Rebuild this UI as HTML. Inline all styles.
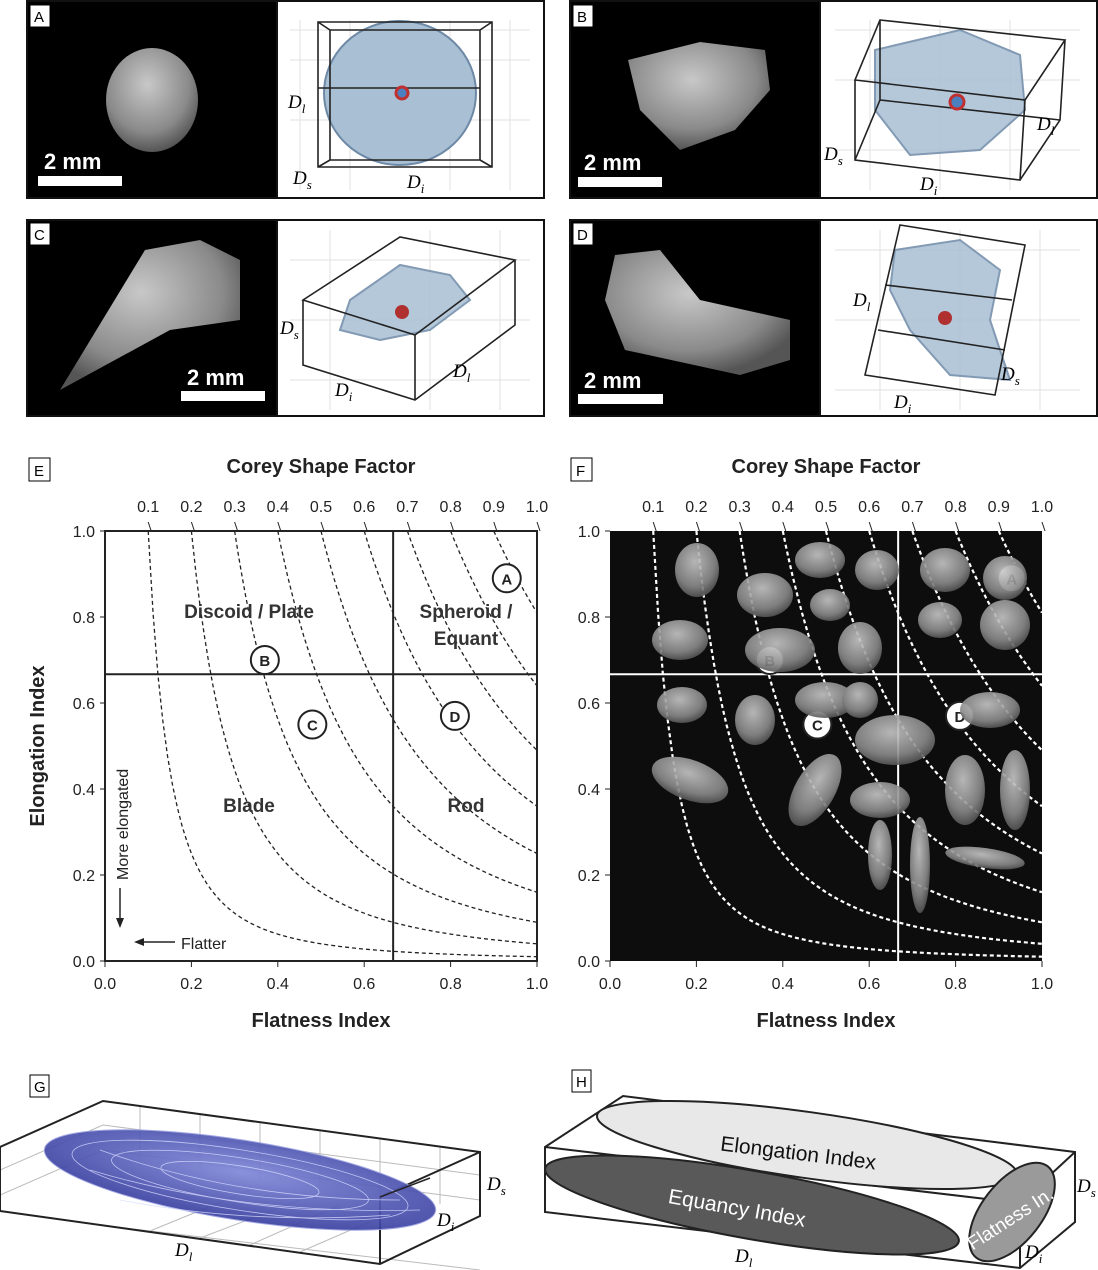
<!DOCTYPE html><html><head><meta charset="utf-8"><style>
body{margin:0;background:#fff}svg{display:block;font-family:"Liberation Sans",sans-serif}
.it{font-family:"Liberation Serif",serif;font-style:italic;font-size:19px}
</style></head><body>
<svg id="s" width="1098" height="1270" viewBox="0 0 1098 1270" xmlns="http://www.w3.org/2000/svg">
<defs>
<radialGradient id="rk" cx="45%" cy="35%" r="65%"><stop offset="0" stop-color="#c8c8c8"/><stop offset="0.7" stop-color="#8a8a8a"/><stop offset="1" stop-color="#555"/></radialGradient>
<radialGradient id="bl" cx="50%" cy="40%" r="60%"><stop offset="0" stop-color="#8088d8"/><stop offset="1" stop-color="#3a40a0"/></radialGradient>
</defs>
<!-- panels A-D -->
<g stroke="#111" stroke-width="2">
<rect x="27" y="1" width="517" height="197" fill="#fff"/><rect x="27" y="1" width="250" height="197" fill="#000"/>
<rect x="570" y="1" width="527" height="197" fill="#fff"/><rect x="570" y="1" width="250" height="197" fill="#000"/>
<rect x="27" y="220" width="517" height="196" fill="#fff"/><rect x="27" y="220" width="250" height="196" fill="#000"/>
<rect x="570" y="220" width="527" height="196" fill="#fff"/><rect x="570" y="220" width="250" height="196" fill="#000"/>
</g>
<g font-size="15" fill="#000">
<rect x="30" y="5" width="20" height="22" fill="#fff" stroke="#000"/><text x="34" y="22">A</text>
<rect x="573" y="5" width="20" height="22" fill="#fff" stroke="#000"/><text x="577" y="22">B</text>
<rect x="30" y="223" width="20" height="22" fill="#fff" stroke="#000"/><text x="34" y="240">C</text>
<rect x="573" y="223" width="20" height="22" fill="#fff" stroke="#000"/><text x="577" y="240">D</text>
</g>
<!-- rocks -->
<ellipse cx="152" cy="100" rx="46" ry="52" fill="url(#rk)"/>
<path d="M628 60 L700 42 L765 50 L770 90 L735 130 L680 150 L640 110 Z" fill="url(#rk)"/>
<path d="M60 390 L145 250 L200 240 L240 260 L240 320 L170 330 Z" fill="url(#rk)"/>
<path d="M615 255 L660 250 L700 300 L790 320 L790 360 L740 375 L625 350 L605 300 Z" fill="url(#rk)"/>
<g fill="#fff" font-weight="bold" font-size="22">
<rect x="38" y="176" width="84" height="10"/><text x="44" y="169">2 mm</text>
<rect x="578" y="177" width="84" height="10"/><text x="584" y="170">2 mm</text>
<rect x="181" y="391" width="84" height="10"/><text x="187" y="385">2 mm</text>
<rect x="578" y="394" width="85" height="10"/><text x="584" y="388">2 mm</text>
</g>
<!-- 3D boxes -->
<g stroke="#e2e2e2" stroke-width="1" fill="none">
<path d="M290 30 L530 30 M290 60 L530 60 M290 120 L530 120 M300 20 L300 190 M350 20 L350 190 M450 20 L450 190 M510 20 L510 190"/>
<path d="M835 30 L1080 30 M835 80 L1080 80 M835 150 L1080 150 M870 20 L870 190 M940 20 L940 190 M1010 20 L1010 190"/>
<path d="M290 260 L530 260 M290 320 L530 320 M290 380 L530 380 M330 230 L330 410 M430 230 L430 410 M500 230 L500 410"/>
<path d="M835 250 L1080 250 M835 320 L1080 320 M835 390 L1080 390 M880 230 L880 410 M960 230 L960 410 M1040 230 L1040 410"/>
</g>
<ellipse cx="400" cy="93" rx="76" ry="72" fill="#a9bfd4" stroke="#6d89a6" stroke-width="2"/>
<g stroke="#222" stroke-width="1.6" fill="none">
<path d="M318 22 L492 22 L492 167 L318 167 Z M330 30 L480 30 L480 160 L330 160 Z M318 22 L330 30 M492 22 L480 30 M492 167 L480 160 M318 167 L330 160 M318 88 L480 88"/>
</g>
<path d="M875 50 L960 30 L1020 55 L1025 110 L980 150 L910 155 L875 110 Z" fill="#a9bfd4" stroke="#6d89a6" stroke-width="2" opacity="0.85"/>
<g stroke="#222" stroke-width="1.6" fill="none">
<path d="M880 20 L1065 40 L1025 100 L855 80 Z M880 20 L880 100 M855 80 L855 160 L1020 180 L1025 100 M1020 180 L1060 120 L1065 40 M855 160 L880 100 L1060 120"/>
</g>
<path d="M350 300 L400 265 L450 275 L470 300 L430 330 L380 340 L340 330 Z" fill="#a9bfd4" stroke="#6d89a6" stroke-width="2" opacity="0.85"/>
<g stroke="#222" stroke-width="1.6" fill="none">
<path d="M303 300 L400 237 L515 260 L415 335 Z M303 300 L303 365 L415 400 L515 325 L515 260 M415 335 L415 400"/>
</g>
<path d="M895 250 L960 240 L1000 270 L990 320 L1010 380 L950 375 L910 330 L890 290 Z" fill="#a9bfd4" stroke="#6d89a6" stroke-width="2" opacity="0.85"/>
<g stroke="#222" stroke-width="1.6" fill="none">
<path d="M900 225 L1025 245 L995 395 L865 375 Z M885 285 L1012 300 M878 330 L1005 350"/>
</g>
<g stroke="#c03030" stroke-width="3"><circle cx="402" cy="93" r="6" fill="#4a7fc0"/><circle cx="957" cy="102" r="7" fill="#4a7fc0"/></g>
<circle cx="402" cy="312" r="7" fill="#b03030"/><circle cx="945" cy="318" r="7" fill="#b03030"/>
<g class="it">
<text x="288" y="108">D<tspan font-size="13" dy="5">l</tspan></text><text x="293" y="184">D<tspan font-size="13" dy="5">s</tspan></text><text x="407" y="188">D<tspan font-size="13" dy="5">i</tspan></text>
<text x="1037" y="130">D<tspan font-size="13" dy="5">l</tspan></text><text x="824" y="160">D<tspan font-size="13" dy="5">s</tspan></text><text x="920" y="190">D<tspan font-size="13" dy="5">i</tspan></text>
<text x="280" y="334">D<tspan font-size="13" dy="5">s</tspan></text><text x="335" y="396">D<tspan font-size="13" dy="5">i</tspan></text><text x="453" y="377">D<tspan font-size="13" dy="5">l</tspan></text>
<text x="853" y="306">D<tspan font-size="13" dy="5">l</tspan></text><text x="1001" y="380">D<tspan font-size="13" dy="5">s</tspan></text><text x="894" y="408">D<tspan font-size="13" dy="5">i</tspan></text>
</g>
<!-- E/F -->
<g font-size="15"><rect x="29" y="458" width="21" height="23" fill="#fff" stroke="#000"/><text x="34" y="476">E</text>
<rect x="571" y="458" width="21" height="23" fill="#fff" stroke="#000"/><text x="576" y="476">F</text></g>
<g font-weight="bold" font-size="20" text-anchor="middle" fill="#222">
<text x="321" y="473">Corey Shape Factor</text><text x="826" y="473">Corey Shape Factor</text>
<text x="321" y="1027">Flatness Index</text><text x="826" y="1027">Flatness Index</text>
<text transform="translate(44,746) rotate(-90)">Elongation Index</text>
</g>
<rect x="610" y="531" width="432" height="430" fill="#0d0d0d"/>
<g id="plots"></g>
<g font-weight="bold" font-size="19" fill="#333" text-anchor="middle">
<text x="249" y="618">Discoid / Plate</text><text x="466" y="618">Spheroid /</text><text x="466" y="645">Equant</text>
<text x="249" y="812">Blade</text><text x="466" y="812">Rod</text>
</g>
<g font-size="16" fill="#222">
<text transform="translate(128,880) rotate(-90)">More elongated</text>
<path d="M120 888 L120 922" stroke="#222" stroke-width="1.5"/><path d="M116 918 L120 928 L124 918Z"/>
<text x="181" y="949">Flatter</text>
<path d="M140 942 L175 942" stroke="#222" stroke-width="1.5"/><path d="M144 938 L134 942 L144 946Z"/>
</g>
<!-- particles F -->
<g fill="url(#rk)" opacity="0.9">
<ellipse cx="697" cy="570" rx="22" ry="27"/><ellipse cx="765" cy="595" rx="28" ry="22"/><ellipse cx="820" cy="560" rx="25" ry="18"/><ellipse cx="830" cy="605" rx="20" ry="16"/>
<ellipse cx="877" cy="570" rx="22" ry="20"/><ellipse cx="945" cy="570" rx="25" ry="22"/><ellipse cx="1005" cy="578" rx="22" ry="22"/>
<ellipse cx="680" cy="640" rx="28" ry="20"/><ellipse cx="780" cy="650" rx="35" ry="22"/><ellipse cx="860" cy="648" rx="22" ry="26"/><ellipse cx="940" cy="620" rx="22" ry="18"/><ellipse cx="1005" cy="625" rx="25" ry="25"/>
<ellipse cx="682" cy="705" rx="25" ry="18"/><ellipse cx="755" cy="720" rx="20" ry="25"/><ellipse cx="825" cy="700" rx="30" ry="18"/><ellipse cx="895" cy="740" rx="40" ry="25"/><ellipse cx="990" cy="710" rx="30" ry="18"/><ellipse cx="860" cy="700" rx="18" ry="18"/>
<ellipse cx="690" cy="780" rx="40" ry="20" transform="rotate(20 690 780)"/><ellipse cx="815" cy="790" rx="20" ry="40" transform="rotate(30 815 790)"/><ellipse cx="880" cy="800" rx="30" ry="18"/><ellipse cx="965" cy="790" rx="20" ry="35"/><ellipse cx="1015" cy="790" rx="15" ry="40"/>
<ellipse cx="880" cy="855" rx="12" ry="35"/><ellipse cx="920" cy="865" rx="10" ry="48"/><ellipse cx="985" cy="858" rx="40" ry="10" transform="rotate(8 985 858)"/>
</g>
<!-- G -->
<rect x="30" y="1075" width="19" height="22" fill="#fff" stroke="#000"/><text x="34" y="1092" font-size="15">G</text>
<g stroke="#bbb" stroke-width="1" fill="none">
<path d="M0 1170 L103 1125 L480 1175 M0 1195 L103 1150 L480 1200 M100 1225 L480 1270 M200 1238 L300 1200 M150 1231 L250 1190 M250 1245 L340 1205 M300 1252 L390 1213 M140 1106 L140 1165 M200 1114 L200 1172 M260 1122 L260 1180 M320 1130 L320 1188 M380 1138 L380 1196 M440 1146 L440 1204"/>
</g>
<g stroke="#222" stroke-width="2" fill="none"><path d="M0 1147 L103 1101 L480 1152 L480 1216 L380 1264 L0 1211 M0 1147 L0 1211 M480 1152 L380 1197 M380 1197 L380 1264"/></g>
<ellipse cx="240" cy="1180" rx="198" ry="40" transform="rotate(9 240 1180)" fill="url(#bl)" stroke="#9aa0e0" opacity="0.92"/>
<g stroke="#d8dcff" stroke-width="0.8" fill="none" opacity="0.8">
<ellipse cx="240" cy="1180" rx="170" ry="30" transform="rotate(9 240 1180)"/><ellipse cx="240" cy="1180" rx="130" ry="22" transform="rotate(9 240 1180)"/><ellipse cx="240" cy="1180" rx="80" ry="14" transform="rotate(9 240 1180)"/>
<path d="M100 1150 Q240 1200 400 1200 M90 1170 Q240 1215 420 1210 M120 1200 Q250 1225 390 1215"/>
</g>
<path d="M380 1197 L430 1178" stroke="#222" stroke-width="1.5"/>
<g class="it"><text x="175" y="1256">D<tspan font-size="13" dy="5">l</tspan></text><text x="437" y="1226">D<tspan font-size="13" dy="5">i</tspan></text><text x="487" y="1190">D<tspan font-size="13" dy="5">s</tspan></text></g>
<!-- H -->
<rect x="572" y="1070" width="19" height="22" fill="#fff" stroke="#000"/><text x="576" y="1087" font-size="15">H</text>
<g stroke="#222" stroke-width="2" fill="none"><path d="M545 1147 L623 1096 L1075 1152 L1075 1222 L1020 1268 L545 1212 Z M545 1147 L1020 1203 L1075 1152 M1020 1203 L1020 1268"/></g>
<ellipse cx="807" cy="1145" rx="212" ry="33" transform="rotate(8 807 1145)" fill="#e8e8e8" stroke="#222" stroke-width="2"/>
<ellipse cx="752" cy="1205" rx="210" ry="34" transform="rotate(10 752 1205)" fill="#595959" stroke="#222" stroke-width="2"/>
<ellipse cx="1012" cy="1212" rx="58" ry="30" transform="rotate(-52 1012 1212)" fill="#9a9a9a" stroke="#222" stroke-width="2"/>
<text x="798" y="1160" font-size="21" fill="#111" text-anchor="middle" transform="rotate(7 798 1155)">Elongation Index</text>
<text x="737" y="1215" font-size="21" fill="#fff" text-anchor="middle" transform="rotate(10 737 1208)">Equancy Index</text>
<text x="1010" y="1225" font-size="19" fill="#fff" text-anchor="middle" transform="rotate(-33 1010 1218)">Flatness In.</text>
<g class="it"><text x="735" y="1262">D<tspan font-size="13" dy="5">l</tspan></text><text x="1025" y="1258">D<tspan font-size="13" dy="5">i</tspan></text><text x="1077" y="1192">D<tspan font-size="13" dy="5">s</tspan></text></g>
</svg>
<script>
var NS="http://www.w3.org/2000/svg",g=document.getElementById("plots");
function el(t,a,txt){var e=document.createElementNS(NS,t);for(var k in a)e.setAttribute(k,a[k]);if(txt)e.textContent=txt;g.appendChild(e);return e;}
function plot(x0,dark){
 var X=function(f){return x0+f*432},Y=function(e){return 961-e*430};
 var lc=dark?"#fff":"#222";
 for(var c=1;c<=10;c++){var cc=c/10,d="";for(var i=0;i<=80;i++){var f=cc+(1-cc)*i/80;var e=Math.min(1,cc*cc/(f*f));d+=(i?"L":"M")+X(f).toFixed(1)+" "+Y(e).toFixed(1);}
  el("path",{d:d,fill:"none",stroke:lc,"stroke-width":dark?2.2:1.3,"stroke-dasharray":dark?"4 3":"4 3"});
  el("text",{x:X(cc),y:512,"font-size":16,"text-anchor":"middle",fill:"#222"},cc.toFixed(1));
  el("path",{d:"M"+X(cc)+" 522 L"+(X(cc)+3)+" 531",stroke:"#222",fill:"none"});}
 if(!dark)el("rect",{x:x0,y:531,width:432,height:430,fill:"none",stroke:"#222","stroke-width":2});
 el("path",{d:"M"+X(0.667)+" 531 L"+X(0.667)+" 961 M"+x0+" "+Y(0.667)+" L"+(x0+432)+" "+Y(0.667),stroke:lc,"stroke-width":2,fill:"none"});
 for(var j=0;j<=5;j++){var v=(j*0.2).toFixed(1);
  el("text",{x:X(j*0.2),y:989,"font-size":16,"text-anchor":"middle",fill:"#222"},v);
  el("path",{d:"M"+X(j*0.2)+" 961 L"+X(j*0.2)+" 967",stroke:"#222"});
  el("text",{x:x0-10,y:Y(j*0.2)+6,"font-size":16,"text-anchor":"end",fill:"#222"},v);
  el("path",{d:"M"+(x0-5)+" "+Y(j*0.2)+" L"+x0+" "+Y(j*0.2),stroke:"#222"});}
 var pts=[["A",0.93,0.89],["B",0.37,0.7],["C",0.48,0.55],["D",0.81,0.57]];
 pts.forEach(function(p){el("circle",{cx:X(p[1]),cy:Y(p[2]),r:14,fill:"#fff",stroke:"#222","stroke-width":2});
  el("text",{x:X(p[1]),y:Y(p[2])+6,"font-size":15,"font-weight":"bold","text-anchor":"middle",fill:"#222"},p[0]);});
}
plot(105,false);plot(610,true);
</script>
</body></html>
